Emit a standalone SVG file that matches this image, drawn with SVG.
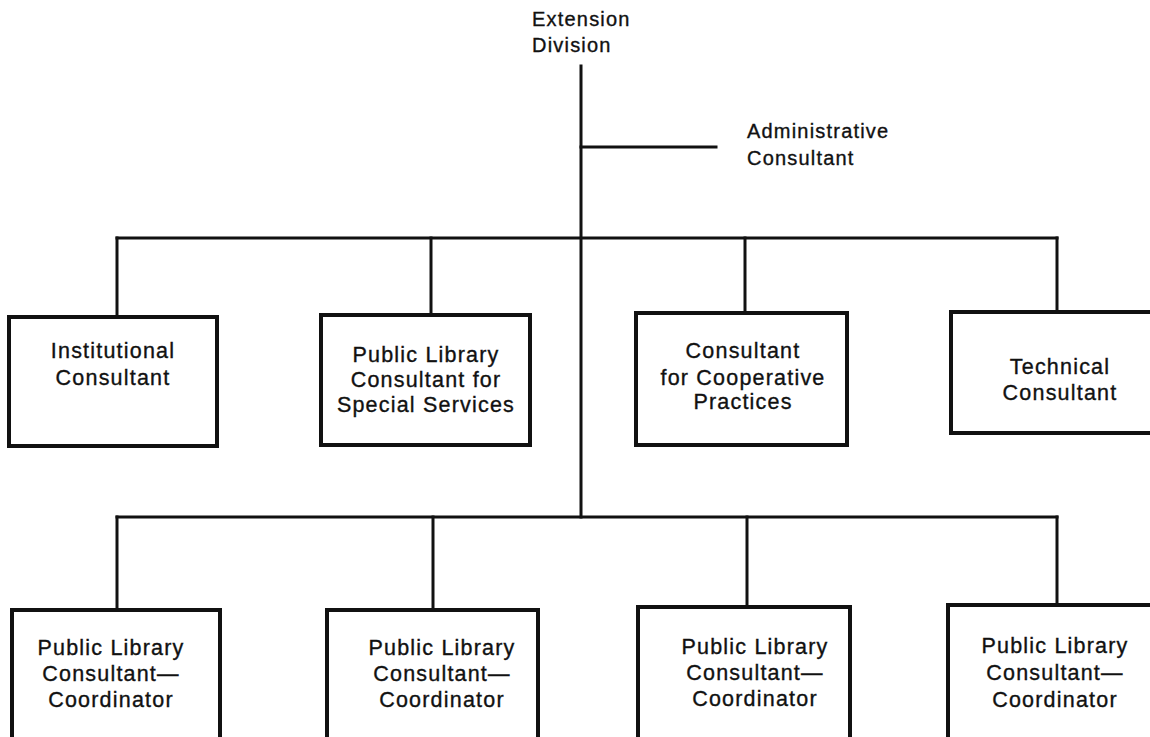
<svg xmlns="http://www.w3.org/2000/svg" width="1150" height="737" viewBox="0 0 1150 737">
  <style>
    .bg { fill: #ffffff; }
    .wire { stroke: #111; stroke-width: 3; fill: none; stroke-linecap: square; }
    .box { fill: #ffffff; stroke: #111; stroke-width: 4; }
    .lbl { font-family: "Liberation Sans", Arial, sans-serif; font-size: 21.5px; letter-spacing: 1.2px; fill: #111; stroke: #111; stroke-width: 0.35px; }
    .hd { font-size: 20px; }
    .mid { text-anchor: middle; }
  </style>
  <rect class="bg" x="0" y="0" width="1150" height="737"/>

  <!-- connectors -->
  <g id="connectors">
    <line class="wire" x1="581" y1="66" x2="581" y2="517"/>
    <line class="wire" x1="581" y1="147" x2="716" y2="147"/>
    <line class="wire" x1="117" y1="238" x2="1057" y2="238"/>
    <line class="wire" x1="117" y1="238" x2="117" y2="317"/>
    <line class="wire" x1="431" y1="238" x2="431" y2="315"/>
    <line class="wire" x1="745" y1="238" x2="745" y2="313"/>
    <line class="wire" x1="1057" y1="238" x2="1057" y2="312"/>
    <line class="wire" x1="117" y1="517" x2="1057" y2="517"/>
    <line class="wire" x1="117" y1="517" x2="117" y2="610"/>
    <line class="wire" x1="433" y1="517" x2="433" y2="610"/>
    <line class="wire" x1="747" y1="517" x2="747" y2="607"/>
    <line class="wire" x1="1057" y1="517" x2="1057" y2="605"/>
  </g>

  <!-- head of the division -->
  <g id="extension-division">
    <text class="lbl hd" x="532" y="26">Extension</text>
    <text class="lbl hd" x="532" y="52">Division</text>
  </g>

  <g id="administrative-consultant">
    <text class="lbl hd" x="747" y="138">Administrative</text>
    <text class="lbl hd" x="747" y="165">Consultant</text>
  </g>

  <!-- first tier of consultants -->
  <g id="institutional-consultant">
    <rect class="box" x="9" y="317" width="208" height="129"/>
    <text class="lbl mid" x="113" y="358">Institutional</text>
    <text class="lbl mid" x="113" y="385">Consultant</text>
  </g>

  <g id="special-services-consultant">
    <rect class="box" x="321" y="315" width="209" height="130"/>
    <text class="lbl mid" x="426" y="362">Public Library</text>
    <text class="lbl mid" x="426" y="387">Consultant for</text>
    <text class="lbl mid" x="426" y="412">Special Services</text>
  </g>

  <g id="cooperative-practices-consultant">
    <rect class="box" x="636" y="313" width="211" height="132"/>
    <text class="lbl mid" x="743" y="358">Consultant</text>
    <text class="lbl mid" x="743" y="385">for Cooperative</text>
    <text class="lbl mid" x="743" y="409">Practices</text>
  </g>

  <g id="technical-consultant">
    <rect class="box" x="951" y="312" width="220" height="121"/>
    <text class="lbl mid" x="1060" y="374">Technical</text>
    <text class="lbl mid" x="1060" y="400">Consultant</text>
  </g>

  <!-- second tier: coordinators -->
  <g id="coordinator-1">
    <rect class="box" x="12" y="610" width="208" height="140"/>
    <text class="lbl mid" x="111" y="655">Public Library</text>
    <text class="lbl mid" x="111" y="681">Consultant—</text>
    <text class="lbl mid" x="111" y="707">Coordinator</text>
  </g>

  <g id="coordinator-2">
    <rect class="box" x="327" y="610" width="211" height="140"/>
    <text class="lbl mid" x="442" y="655">Public Library</text>
    <text class="lbl mid" x="442" y="681">Consultant—</text>
    <text class="lbl mid" x="442" y="707">Coordinator</text>
  </g>

  <g id="coordinator-3">
    <rect class="box" x="638" y="607" width="212" height="143"/>
    <text class="lbl mid" x="755" y="654">Public Library</text>
    <text class="lbl mid" x="755" y="680">Consultant—</text>
    <text class="lbl mid" x="755" y="706">Coordinator</text>
  </g>

  <g id="coordinator-4">
    <rect class="box" x="948" y="605" width="220" height="145"/>
    <text class="lbl mid" x="1055" y="653">Public Library</text>
    <text class="lbl mid" x="1055" y="680">Consultant—</text>
    <text class="lbl mid" x="1055" y="707">Coordinator</text>
  </g>
</svg>
